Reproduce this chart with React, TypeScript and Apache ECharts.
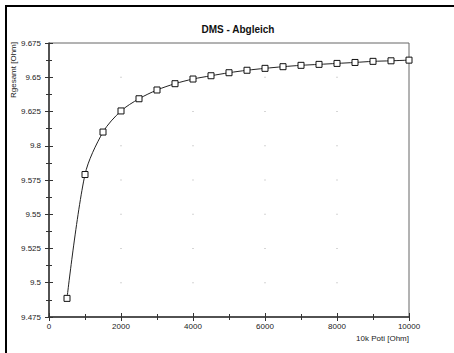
import React, { useEffect, useRef } from "react";
import * as echarts from "echarts";

const xValues = [500, 1000, 1500, 2000, 2500, 3000, 3500, 4000, 4500, 5000, 5500, 6000, 6500, 7000, 7500, 8000, 8500, 9000, 9500, 10000];
const yValues = [9.4886, 9.579, 9.61, 9.6254, 9.6343, 9.6407, 9.6453, 9.6487, 9.6511, 9.6533, 9.6551, 9.6565, 9.6577, 9.6587, 9.6594, 9.6601, 9.6608, 9.6616, 9.662, 9.6625];
const yTickLabels = ["9.475", "9.5", "9.525", "9.55", "9.575", "9.8", "9.625", "9.65", "9.675"];
const xGridTicks = [2000, 4000, 6000, 8000];
const yGridTicks = [9.5, 9.525, 9.55, 9.575, 9.6, 9.625, 9.65];

const FONT = "Liberation Sans, Arial, sans-serif";

export default function App() {
  const ref = useRef<HTMLDivElement>(null);
  useEffect(() => {
    if (!ref.current) return;
    const chart = echarts.init(ref.current, null, { renderer: "svg" });
    const gridDots: number[][] = [];
    xGridTicks.forEach((x) => yGridTicks.forEach((y) => gridDots.push([x, y])));
    const axisLine = { show: true, lineStyle: { color: "#333", width: 1.5 } };
    chart.setOption({
      animation: false,
      backgroundColor: "#fff",
      title: {
        text: "DMS - Abgleich",
        left: 233,
        top: 19,
        textAlign: "center",
        textStyle: { fontFamily: FONT, fontSize: 10, fontWeight: "bold", color: "#111" },
      },
      grid: { left: 49, right: 45, top: 43, bottom: 36, show: true, borderColor: "#666", borderWidth: 1 },
      xAxis: [
        {
          type: "value",
          min: 0,
          max: 10000,
          interval: 2000,
          position: "bottom",
          axisLine,
          axisTick: { show: true, inside: false, length: 4, lineStyle: { color: "#333", width: 1 } },
          minorTick: { show: true, splitNumber: 2, length: 3, lineStyle: { color: "#333", width: 1 } },
          axisLabel: { margin: 5, fontFamily: FONT, fontSize: 8, color: "#222", formatter: (v: number) => String(v) },
          splitLine: { show: false },
        },
        {
          type: "value",
          min: 0,
          max: 10000,
          interval: 2000,
          position: "bottom",
          axisLine: { show: false },
          axisTick: { show: true, inside: true, length: 4, lineStyle: { color: "#333", width: 1 } },
          minorTick: { show: true, splitNumber: 2, length: 3, lineStyle: { color: "#333", width: 1 } },
          axisLabel: { show: false },
          splitLine: { show: false },
        },
      ],
      yAxis: [
        {
          type: "value",
          min: 9.475,
          max: 9.675,
          interval: 0.025,
          position: "left",
          axisLine,
          axisTick: { show: true, inside: false, length: 4, lineStyle: { color: "#333", width: 1 } },
          minorTick: { show: true, splitNumber: 2, length: 3, lineStyle: { color: "#333", width: 1 } },
          axisLabel: {
            margin: 8,
            fontFamily: FONT,
            fontSize: 8,
            color: "#222",
            formatter: (v: number) => yTickLabels[Math.round((v - 9.475) / 0.025)] ?? "",
          },
          splitLine: { show: false },
        },
        {
          type: "value",
          min: 9.475,
          max: 9.675,
          interval: 0.025,
          position: "left",
          axisLine: { show: false },
          axisTick: { show: true, inside: true, length: 4, lineStyle: { color: "#333", width: 1 } },
          minorTick: { show: true, splitNumber: 2, length: 3, lineStyle: { color: "#333", width: 1 } },
          axisLabel: { show: false },
          splitLine: { show: false },
        },
      ],
      graphic: [
        { type: "line", shape: { x1: 6, y1: 5, x2: 6, y2: 353 }, style: { stroke: "#000", lineWidth: 2 } },
        { type: "line", shape: { x1: 5, y1: 6, x2: 454, y2: 6 }, style: { stroke: "#000", lineWidth: 2 } },
        {
          type: "text",
          x: 409,
          y: 338,
          style: { text: "10k Poti [Ohm]", fontFamily: FONT, fontSize: 8, fill: "#222", align: "right", verticalAlign: "middle" },
        },
        {
          type: "text",
          x: 13,
          y: 42,
          rotation: Math.PI / 2,
          style: { text: "Rgesamt [Ohm]", fontFamily: FONT, fontSize: 8, fill: "#222", align: "right", verticalAlign: "middle" },
        },
      ],
      series: [
        {
          type: "scatter",
          xAxisIndex: 0,
          yAxisIndex: 0,
          symbol: "rect",
          symbolSize: 1,
          itemStyle: { color: "#999" },
          data: gridDots,
          silent: true,
          z: 1,
        },
        {
          type: "line",
          xAxisIndex: 0,
          yAxisIndex: 0,
          smooth: 0.3,
          symbol: "rect",
          symbolSize: 6,
          showAllSymbol: true,
          lineStyle: { color: "#222", width: 1 },
          itemStyle: { color: "#fff", borderColor: "#111", borderWidth: 1 },
          data: xValues.map((x, i) => [x, yValues[i]]),
          z: 3,
        },
      ],
    });
    return () => chart.dispose();
  }, []);
  return <div ref={ref} style={{ width: 454, height: 353, position: "absolute", left: 0, top: 0 }} />;
}
